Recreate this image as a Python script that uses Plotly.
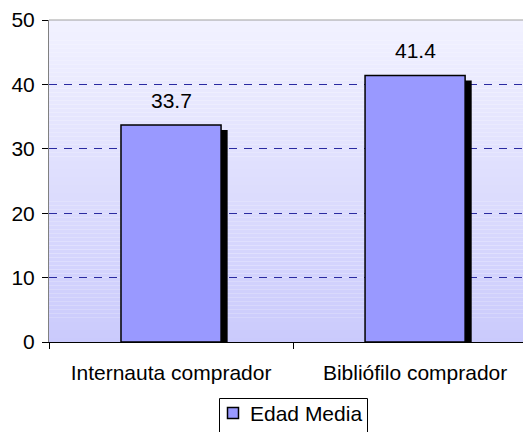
import plotly.graph_objects as go

# ============================================================================
# Data
# ============================================================================

categories = ['Internauta comprador', 'Bibliófilo comprador']
edad_media = [33.7, 41.4]
series_name = 'Edad Media'
y_ticks = [0, 10, 20, 30, 40, 50]

# ============================================================================
# Style
# ============================================================================

FONT = 'Liberation Sans, Arial, sans-serif'
FS = 21
BAR_COLOR = '#9999FF'
BAR_WIDTH = 0.41
SHADOW_DX = 0.027   # shadow shift right (category units)
SHADOW_DY = 0.78    # shadow shift down (value units)

# the page body has an 8px margin, so the figure is shrunk by that amount
W, H = 523, 424
ML, MT, MB = 41, 12, 90
PW, PH = W - ML, H - MT - MB


def px(x):
    """page pixel x -> paper coordinate"""
    return (x - 8 - ML) / PW


def py(y):
    """page pixel y -> paper coordinate"""
    return (H - MB + 8 - y) / PH


def gradient_bands(n, top=(242, 242, 255), bottom=(202, 202, 252)):
    """Horizontal bands emulating the vertical gradient of the plot area"""
    shapes = []
    for i in range(n):
        t = (i + 0.5) / n
        c = tuple(round(top[k] + (bottom[k] - top[k]) * t) for k in range(3))
        shapes.append(dict(
            type='rect', xref='paper', yref='paper',
            x0=0, x1=1, y0=1 - (i + 1) / n, y1=1 - i / n,
            fillcolor=f'rgb{c}', line=dict(width=0), layer='below'
        ))
    return shapes


fig = go.Figure()

# shadow behind bars
fig.add_trace(go.Bar(
    x=categories,
    y=[v - SHADOW_DY for v in edad_media],
    width=BAR_WIDTH,
    offset=-BAR_WIDTH / 2 + SHADOW_DX,
    marker=dict(color='black', line=dict(width=0)),
    showlegend=False,
    hoverinfo='skip'
))

# main bars
fig.add_trace(go.Bar(
    x=categories,
    y=edad_media,
    width=BAR_WIDTH,
    offset=-BAR_WIDTH / 2,
    name=series_name,
    marker=dict(color=BAR_COLOR, line=dict(color='black', width=1.5)),
    showlegend=False,
))

# value labels
for cat, val in zip(categories, edad_media):
    fig.add_annotation(
        x=cat, y=val, text=f'{val:.1f}', showarrow=False,
        yanchor='bottom', yshift=11,
        font=dict(family=FONT, size=FS, color='black')
    )

shapes = gradient_bands(80)
# thin border on top of the plot area
shapes.append(dict(type='line', xref='paper', yref='paper', x0=0, x1=1, y0=1, y1=1,
                   line=dict(color='#a0a0a0', width=1)))

# legend box (drawn by hand so it sits like the original)
shapes.append(dict(type='rect', xref='paper', yref='paper',
                   x0=px(219.5), x1=px(367.5), y0=py(440), y1=py(398.5),
                   fillcolor='white', line=dict(color='black', width=1)))
shapes.append(dict(type='rect', xref='paper', yref='paper',
                   x0=px(227.5), x1=px(238.5), y0=py(418.5), y1=py(407.5),
                   fillcolor=BAR_COLOR, line=dict(color='black', width=1.5)))
fig.add_annotation(
    xref='paper', yref='paper', x=px(248), y=py(413.5),
    xanchor='left', yanchor='middle', text=series_name, showarrow=False,
    font=dict(family=FONT, size=FS, color='black')
)

fig.update_layout(
    width=W,
    height=H,
    margin=dict(l=ML, r=0, t=MT, b=MB),
    paper_bgcolor='white',
    plot_bgcolor='rgba(0,0,0,0)',
    barmode='overlay',
    font=dict(family=FONT, size=FS, color='black'),
    shapes=shapes,
    showlegend=False,
    xaxis=dict(
        type='category',
        range=[-0.5, 1.475],
        tickson='boundaries',
        ticks='outside', ticklen=6, tickcolor='black',
        showline=True, linecolor='black', linewidth=1,
        showgrid=False,
        automargin=False,
        ticklabelstandoff=12,
        tickfont=dict(family=FONT, size=FS, color='black'),
    ),
    yaxis=dict(
        range=[0, 50],
        tickvals=y_ticks,
        ticks='outside', ticklen=6, tickcolor='black',
        showline=True, linecolor='#808080', linewidth=1,
        showgrid=True, gridcolor='#2a2aa0', gridwidth=1, griddash='8px,7px',
        zeroline=False,
        automargin=False,
        ticklabelstandoff=3,
        tickfont=dict(family=FONT, size=FS, color='black'),
    ),
)

fig.write_html("out.html")
